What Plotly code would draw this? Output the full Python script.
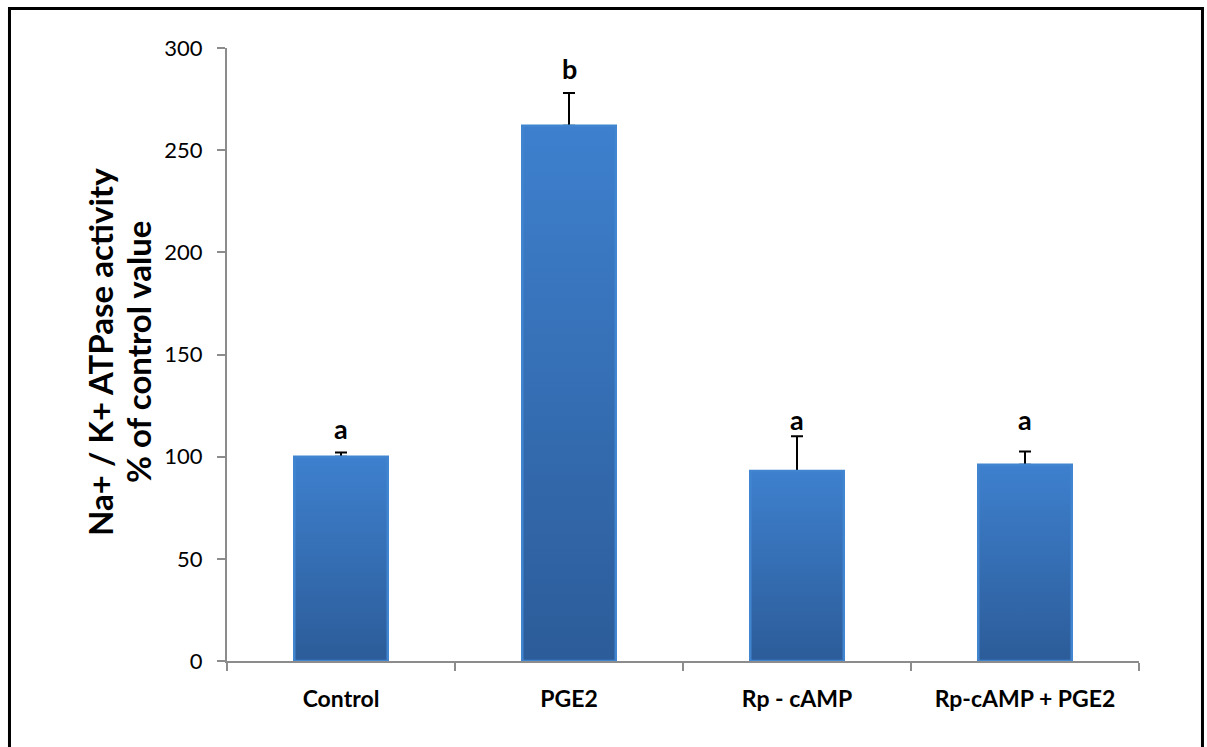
import plotly.graph_objects as go

# Na+/K+ ATPase activity, % of control
categories = ["Control", "PGE2", "Rp - cAMP", "Rp-cAMP + PGE2"]
means = [100, 262, 93, 96]
errors = [2, 16, 17, 6.5]
letters = ["a", "b", "a", "a"]
y_ticks = [0, 50, 100, 150, 200, 250, 300]

BAR_HALF = 0.205
FONT = "Lato, Carlito, 'Open Sans', sans-serif"

fig = go.Figure()

# error bars on the base axis; bars sit on an overlaid axis drawn on top,
# so only the upper half of each error bar shows
fig.add_trace(go.Scatter(
    x=list(range(len(categories))), y=means, mode="markers",
    marker=dict(size=0.1, color="rgba(0,0,0,0)"),
    error_y=dict(type="data", symmetric=False, array=errors,
                 arrayminus=[0] * len(means), color="black",
                 thickness=2, width=6),
    showlegend=False, hoverinfo="skip", yaxis="y"))

# bars as filled polygons with a vertical gradient
for i, v in enumerate(means):
    fig.add_trace(go.Scatter(
        x=[i - BAR_HALF, i + BAR_HALF, i + BAR_HALF, i - BAR_HALF, i - BAR_HALF],
        y=[0, 0, v, v, 0],
        mode="lines", line=dict(width=2.5, color="#4185d0"),
        fill="toself",
        fillgradient=dict(type="vertical",
                          colorscale=[[0, "#2c5c99"], [1, "#3e80ce"]]),
        showlegend=False, hoverinfo="skip", yaxis="y2"))

# significance letters
letter_y = [114, 290, 118, 118]
for i, (t, ly) in enumerate(zip(letters, letter_y)):
    fig.add_annotation(x=i, y=ly, text=f"<b>{t}</b>", showarrow=False,
                       font=dict(family=FONT, size=27, color="black"),
                       xref="x", yref="y")

# two-line y-axis title
title_lines = ["Na+ / K+ ATPase activity", "% of control value"]
for line, xp in zip(title_lines, [-0.1393, -0.0976]):
    fig.add_annotation(x=xp, y=0.504, xref="paper", yref="paper",
                       text=f"<b>{line}</b>", textangle=-90, showarrow=False,
                       xanchor="center", yanchor="middle",
                       font=dict(family=FONT, size=33, color="black"))

# outer frame
fig.add_shape(type="rect", xref="paper", yref="paper",
              x0=-0.2385, x1=1.0696, y0=-0.16, y1=1.0644,
              line=dict(color="black", width=3), fillcolor="rgba(0,0,0,0)",
              layer="above")

fig.update_layout(
    width=1207, height=747,
    margin=dict(l=227, r=68, t=48, b=86),
    paper_bgcolor="white", plot_bgcolor="white",
    font=dict(family=FONT, color="black"),
    xaxis=dict(
        range=[-0.5, 3.5], tickmode="array",
        tickvals=list(range(len(categories))),
        ticktext=[f"<b>{c}</b>" for c in categories],
        tickfont=dict(family=FONT, size=23, color="black"),
        ticks="", ticklabelstandoff=16,
        showline=True, linecolor="#8c8c8c", linewidth=2,
        showgrid=False, zeroline=False,
        minor=dict(tick0=-0.5, dtick=1, ticks="outside", ticklen=8,
                   tickcolor="#8c8c8c", tickwidth=2, showgrid=False),
    ),
    yaxis=dict(
        range=[0, 300], tickmode="array", tickvals=y_ticks,
        tickfont=dict(family=FONT, size=22, color="black"),
        ticks="outside", ticklen=8, tickcolor="#8c8c8c", tickwidth=2,
        ticklabelstandoff=10,
        showline=True, linecolor="#8c8c8c", linewidth=2,
        showgrid=False, zeroline=False,
    ),
    yaxis2=dict(range=[0, 300], overlaying="y", visible=False,
                showgrid=False, zeroline=False),
)

fig.write_html("out.html")
